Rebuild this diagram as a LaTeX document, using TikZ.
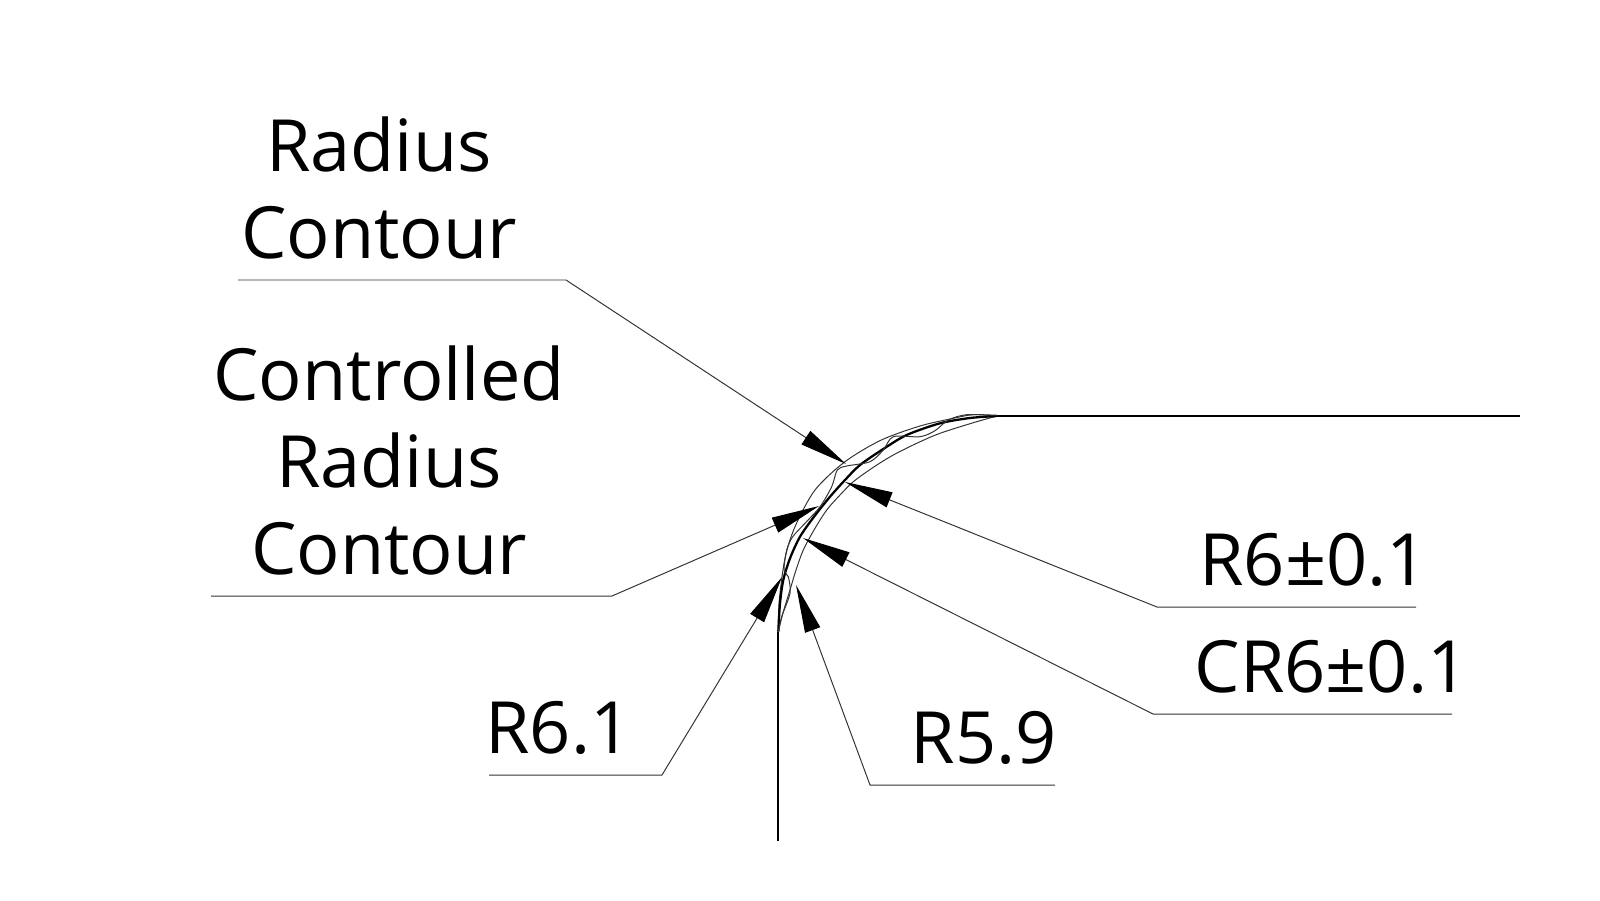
\documentclass[tikz,border=0pt]{standalone}
\usepackage{fontspec}
\setmainfont{Open Sans}
\usetikzlibrary{arrows.meta}
\begin{document}
\begin{tikzpicture}[
  leader/.style={line width=0.28pt,black!80,-{Triangle[length=4.8mm,width=1.6mm,fill=black,color=black]}},
  contour/.style={line width=0.28pt,black!80},
  profile/.style={line width=0.65pt,black},
  callout/.style={inner sep=0pt,anchor=base,font=\fontsize{20.5}{24.7}\selectfont,align=center}]
\useasboundingbox (0,0) rectangle (16,9);

\coordinate (top1) at (9.97,4.84);
\coordinate (top2) at (15.20,4.84);
\coordinate (side1) at (7.78,2.68);
\coordinate (side2) at (7.78,0.59);

\coordinate (a1) at (2.38,6.20);
\coordinate (a2) at (5.66,6.20);
\coordinate (a3) at (8.46,4.36);
\coordinate (b1) at (2.11,3.04);
\coordinate (b2) at (6.12,3.04);
\coordinate (b3) at (8.19,3.94);
\coordinate (c1) at (14.16,2.93);
\coordinate (c2) at (11.57,2.93);
\coordinate (c3) at (8.45,4.18);
\coordinate (d1) at (14.52,1.86);
\coordinate (d2) at (11.53,1.86);
\coordinate (d3) at (8.03,3.62);
\coordinate (e1) at (4.89,1.25);
\coordinate (e2) at (6.62,1.25);
\coordinate (e3) at (7.82,3.23);
\coordinate (f1) at (10.55,1.15);
\coordinate (f2) at (8.70,1.15);
\coordinate (f3) at (7.96,3.15);

\draw[profile] (top1) -- (top2);
\draw[profile] (side1) -- (side2);

% radius curves
\draw[contour] plot[smooth] coordinates {(9.97,4.84) (9.733,4.853) (9.533,4.817) (9.2,4.74) (8.807,4.597) (8.45,4.383) (8.15,4.1) (7.95,3.733) (7.85,3.417) (7.793,3.0) (7.783,2.7)};
\draw[contour] plot[smooth] coordinates {(9.97,4.84) (9.733,4.773) (9.4,4.667) (9.167,4.567) (8.933,4.45) (8.733,4.327) (8.533,4.183) (8.4,4.05) (8.267,3.9) (8.14,3.7) (8.033,3.5) (7.96,3.3) (7.9,3.1) (7.833,2.883) (7.783,2.683)};
\draw[profile] plot[smooth] coordinates {(9.97,4.84) (9.7,4.82) (9.4,4.767) (9.067,4.65) (8.833,4.51) (8.6,4.35) (8.45,4.2) (8.3,4.033) (8.14,3.833) (8.0,3.633) (7.9,3.417) (7.833,3.2) (7.8,2.967) (7.783,2.683)};
\draw[contour] plot[smooth] coordinates {(9.967,4.847) (9.667,4.853) (9.483,4.8) (9.35,4.693) (9.2,4.633) (8.933,4.633) (8.833,4.5) (8.7,4.383) (8.467,4.34) (8.373,4.3) (8.317,4.133) (8.2,3.933) (8.05,3.767) (7.927,3.633) (7.867,3.5) (7.84,3.3) (7.883,3.233) (7.9,3.067) (7.817,2.833) (7.783,2.683)};

\draw[leader] (a1) -- (a2) -- (a3);
\draw[leader] (b1) -- (b2) -- (b3);
\draw[leader] (c1) -- (c2) -- (c3);
\draw[leader] (d1) -- (d2) -- (d3);
\draw[leader] (e1) -- (e2) -- (e3);
\draw[leader] (f1) -- (f2) -- (f3);

\node[callout] (radius) at (3.79,6.42) {Radius\\Contour};
\node[callout] (controlled) at (3.89,3.26) {Controlled\\Radius\\Contour};
\node[callout] (rnom) at (13.135,3.15) {R6±0.1};
\node[callout] (crnom) at (13.315,2.08) {CR6±0.1};
\node[callout] (rmax) at (5.585,1.47) {R6.1};
\node[callout] (rmin) at (9.84,1.37) {R5.9};
\end{tikzpicture}
\end{document}
